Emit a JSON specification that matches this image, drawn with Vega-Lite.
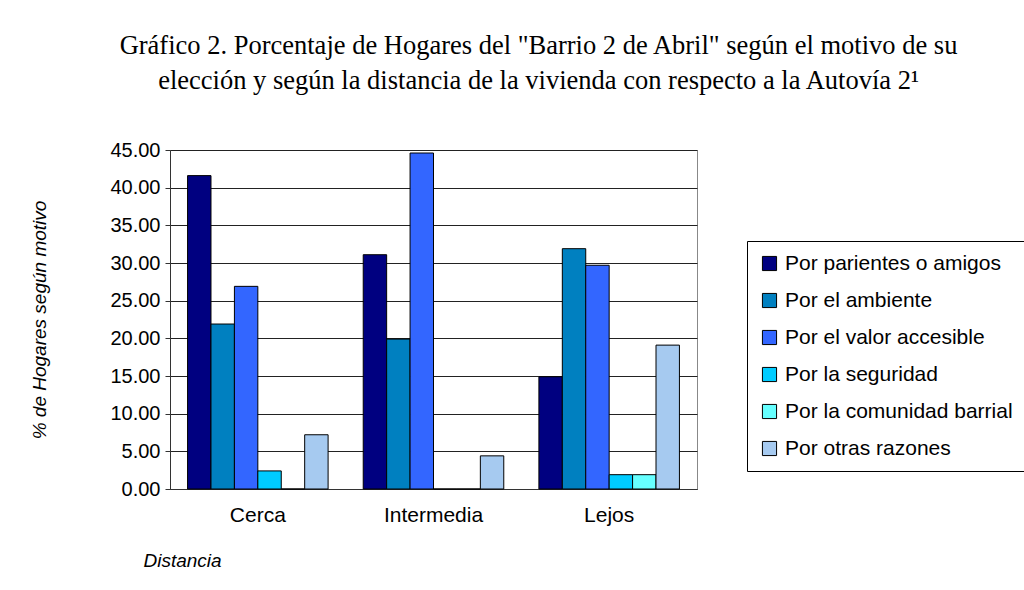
{
  "$schema": "https://vega.github.io/schema/vega-lite/v6.json",
  "width": 527,
  "height": 339,
  "autosize": {"type": "none"},
  "padding": {"left": 170, "top": 150, "right": 327, "bottom": 101},
  "background": "white",
  "title": {
    "text": ["Gráfico 2. Porcentaje de Hogares del \"Barrio 2 de Abril\" según el motivo de su", "elección y según la distancia de la vivienda con respecto a la Autovía 2¹"],
    "font": "Liberation Serif",
    "fontSize": 26.5,
    "fontWeight": "normal",
    "lineHeight": 35,
    "color": "black",
    "anchor": "middle",
    "dx": 105,
    "offset": 46
  },
  "data": {
    "values": [
      {"distancia": "Cerca", "motivo": "Por parientes o amigos", "valor": 41.6},
      {"distancia": "Cerca", "motivo": "Por el ambiente", "valor": 21.9},
      {"distancia": "Cerca", "motivo": "Por el valor accesible", "valor": 26.9},
      {"distancia": "Cerca", "motivo": "Por la seguridad", "valor": 2.4},
      {"distancia": "Cerca", "motivo": "Por la comunidad barrial", "valor": 0},
      {"distancia": "Cerca", "motivo": "Por otras razones", "valor": 7.2},
      {"distancia": "Intermedia", "motivo": "Por parientes o amigos", "valor": 31.1},
      {"distancia": "Intermedia", "motivo": "Por el ambiente", "valor": 19.9},
      {"distancia": "Intermedia", "motivo": "Por el valor accesible", "valor": 44.6},
      {"distancia": "Intermedia", "motivo": "Por la seguridad", "valor": 0},
      {"distancia": "Intermedia", "motivo": "Por la comunidad barrial", "valor": 0},
      {"distancia": "Intermedia", "motivo": "Por otras razones", "valor": 4.4},
      {"distancia": "Lejos", "motivo": "Por parientes o amigos", "valor": 14.9},
      {"distancia": "Lejos", "motivo": "Por el ambiente", "valor": 31.9},
      {"distancia": "Lejos", "motivo": "Por el valor accesible", "valor": 29.7},
      {"distancia": "Lejos", "motivo": "Por la seguridad", "valor": 1.9},
      {"distancia": "Lejos", "motivo": "Por la comunidad barrial", "valor": 1.9},
      {"distancia": "Lejos", "motivo": "Por otras razones", "valor": 19.1}
    ]
  },
  "mark": {"type": "bar", "stroke": "black", "strokeWidth": 1},
  "encoding": {
    "x": {
      "field": "distancia",
      "type": "nominal",
      "sort": ["Cerca", "Intermedia", "Lejos"],
      "scale": {"paddingInner": 0.2, "paddingOuter": 0.1},
      "axis": {
        "title": "Distancia",
        "titleFont": "Liberation Sans",
        "titleFontStyle": "italic",
        "titleFontWeight": "normal",
        "titleFontSize": 19,
        "titleColor": "black",
        "titleAnchor": "start",
        "titleAlign": "left",
        "titleX": -27,
        "titleY": 62,
        "labelAngle": 0,
        "labelFont": "Liberation Sans",
        "labelFontSize": 21,
        "labelColor": "black",
        "labelPadding": 15,
        "ticks": false,
        "domainColor": "#333333",
        "grid": false
      }
    },
    "xOffset": {
      "field": "motivo",
      "type": "nominal",
      "sort": ["Por parientes o amigos", "Por el ambiente", "Por el valor accesible", "Por la seguridad", "Por la comunidad barrial", "Por otras razones"],
      "scale": {"paddingInner": 0, "paddingOuter": 0}
    },
    "y": {
      "field": "valor",
      "type": "quantitative",
      "scale": {"domain": [0, 45], "nice": false},
      "axis": {
        "title": "% de Hogares según motivo",
        "titleFont": "Liberation Sans",
        "titleFontStyle": "italic",
        "titleFontWeight": "normal",
        "titleFontSize": 19,
        "titleColor": "black",
        "titlePadding": 60,
        "values": [0, 5, 10, 15, 20, 25, 30, 35, 40, 45],
        "format": ".2f",
        "labelFont": "Liberation Sans",
        "labelFontSize": 20,
        "labelColor": "black",
        "labelPadding": 5,
        "tickColor": "#333333",
        "tickSize": 5,
        "domainColor": "#333333",
        "grid": true,
        "gridColor": "#222222",
        "gridWidth": 1
      }
    },
    "color": {
      "field": "motivo",
      "type": "nominal",
      "sort": ["Por parientes o amigos", "Por el ambiente", "Por el valor accesible", "Por la seguridad", "Por la comunidad barrial", "Por otras razones"],
      "scale": {
        "domain": ["Por parientes o amigos", "Por el ambiente", "Por el valor accesible", "Por la seguridad", "Por la comunidad barrial", "Por otras razones"],
        "range": ["#000080", "#0080C0", "#3366FF", "#00CCFF", "#66FFFF", "#A6CAF0"]
      },
      "legend": {
        "title": null,
        "orient": "none",
        "legendX": 577,
        "legendY": 91,
        "padding": 12,
        "strokeColor": "black",
        "fillColor": "white",
        "symbolType": "square",
        "symbolSize": 200,
        "symbolStrokeColor": "black",
        "symbolStrokeWidth": 1,
        "labelFont": "Liberation Sans",
        "labelFontSize": 21,
        "labelColor": "black",
        "labelLimit": 300,
        "rowPadding": 15,
        "labelOffset": 5
      }
    }
  },
  "config": {
    "view": {"stroke": "#888888", "strokeWidth": 1}
  }
}
